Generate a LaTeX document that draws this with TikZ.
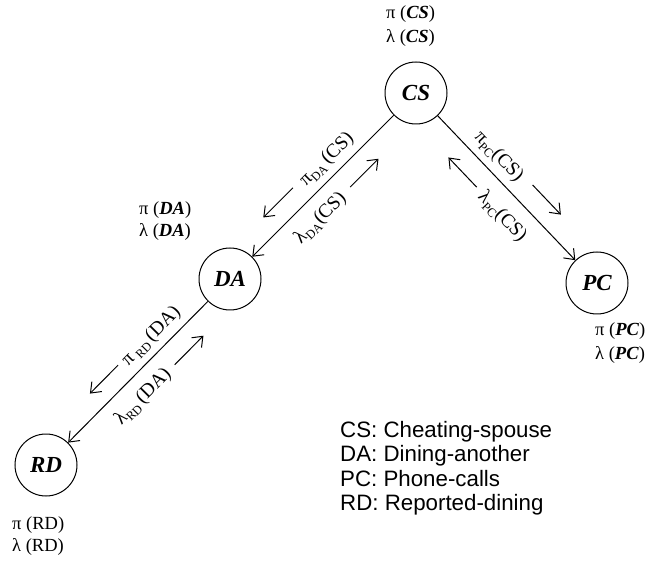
\documentclass[tikz,border=0pt]{standalone}
\usepackage{fontspec}
\setmainfont{Liberation Serif}
\newfontfamily\legendfont{Liberation Sans}
\usetikzlibrary{calc,arrows.meta}
% lowered, smaller subscript for the message labels
\newcommand\lsub[1]{\raisebox{-0.45ex}{\fontsize{12.5}{12.5}\selectfont #1}}
% italic variable name in the value labels
\newcommand\vname[1]{\textbf{\textit{#1}}}

\begin{document}
\begin{tikzpicture}[x=1pt,y=1pt,
  var/.style={circle,draw,line width=1pt,minimum size=62pt,inner sep=0pt,
    font=\fontsize{23}{23}\selectfont\bfseries\itshape},
  link/.style={-{Straight Barb[length=9pt,width=14pt]},line width=1pt},
  msg/.style={link},
  elabel/.style={font=\fontsize{19.5}{19.5}\selectfont,inner sep=0pt},
  nlabel/.style={font=\fontsize{18.5}{18.5}\selectfont,anchor=west,inner sep=0pt},
  keyline/.style={font=\legendfont\fontsize{22.3}{22.3}\selectfont,anchor=base west,inner sep=0pt}]
\useasboundingbox (0,0) rectangle (647,565);

% variables
\node[var] (CS) at (416,472) {CS};
\node[var] (DA) at (230,286) {DA};
\node[var] (PC) at (597,282) {PC};
\node[var] (RD) at (46,100) {RD};

% pi / lambda values beside each variable
\node[nlabel] (piCS) at (386,551) {π (\vname{CS})};
\node[nlabel] (laCS) at (386,527) {λ (\vname{CS})};
\node[nlabel] (piDA) at (139,355) {π (\vname{DA})};
\node[nlabel] (laDA) at (139,333) {λ (\vname{DA})};
\node[nlabel] (piPC) at (595,234) {π (\vname{PC})};
\node[nlabel] (laPC) at (595,210) {λ (\vname{PC})};
\node[nlabel] (piRD) at (12,40) {π (RD)};
\node[nlabel] (laRD) at (12,18) {λ (RD)};

% causal links
\draw[link] (CS) -- (DA);
\draw[link] (CS) -- (PC);
\draw[link] (DA) -- (RD);

% messages along CS -- DA
\node[elabel,rotate=45] (mpiDA) at ($(CS)!110pt!(DA)!16pt!270:(DA)$) {π\lsub{DA}\,(CS)};
\draw[msg] ($(CS)!154pt!(DA)!20pt!270:(DA)$) -- ($(CS)!196pt!(DA)!20pt!270:(DA)$);
\node[elabel,rotate=45] (mlaDA) at ($(CS)!156pt!(DA)!21pt!90:(DA)$) {λ\lsub{DA}(CS)};
\draw[msg] ($(CS)!113pt!(DA)!20pt!90:(DA)$) -- ($(CS)!73pt!(DA)!20pt!90:(DA)$);

% messages along CS -- PC
\node[elabel,rotate=-46.4] (mpiPC) at ($(CS)!103pt!(PC)!16pt!90:(PC)$) {π\lsub{PC}(CS)};
\draw[msg] ($(CS)!147pt!(PC)!21pt!90:(PC)$) -- ($(CS)!188pt!(PC)!21pt!90:(PC)$);
\node[elabel,rotate=-46.4] (mlaPC) at ($(CS)!149pt!(PC)!23pt!270:(PC)$) {λ\lsub{PC}(CS)};
\draw[msg] ($(CS)!110pt!(PC)!21pt!270:(PC)$) -- ($(CS)!69pt!(PC)!21pt!270:(PC)$);

% messages along DA -- RD
\node[elabel,rotate=45.3] (mpiRD) at ($(DA)!96pt!(RD)!15.5pt!270:(RD)$) {π\,\lsub{RD}\,(DA)};
\draw[msg] ($(DA)!140pt!(RD)!19pt!270:(RD)$) -- ($(DA)!180pt!(RD)!19pt!270:(RD)$);
\node[elabel,rotate=45.3] (mlaRD) at ($(DA)!145pt!(RD)!21.5pt!90:(RD)$) {λ\lsub{RD}\,(DA)};
\draw[msg] ($(DA)!100pt!(RD)!21pt!90:(RD)$) -- ($(DA)!59pt!(RD)!21pt!90:(RD)$);

% key
\node[keyline] (keyCS) at (340,128) {CS: Cheating-spouse};
\node[keyline] (keyDA) at (340,103.5) {DA: Dining-another};
\node[keyline] (keyPC) at (340,79) {PC: Phone-calls};
\node[keyline] (keyRD) at (340,55) {RD: Reported-dining};
\end{tikzpicture}
\end{document}
